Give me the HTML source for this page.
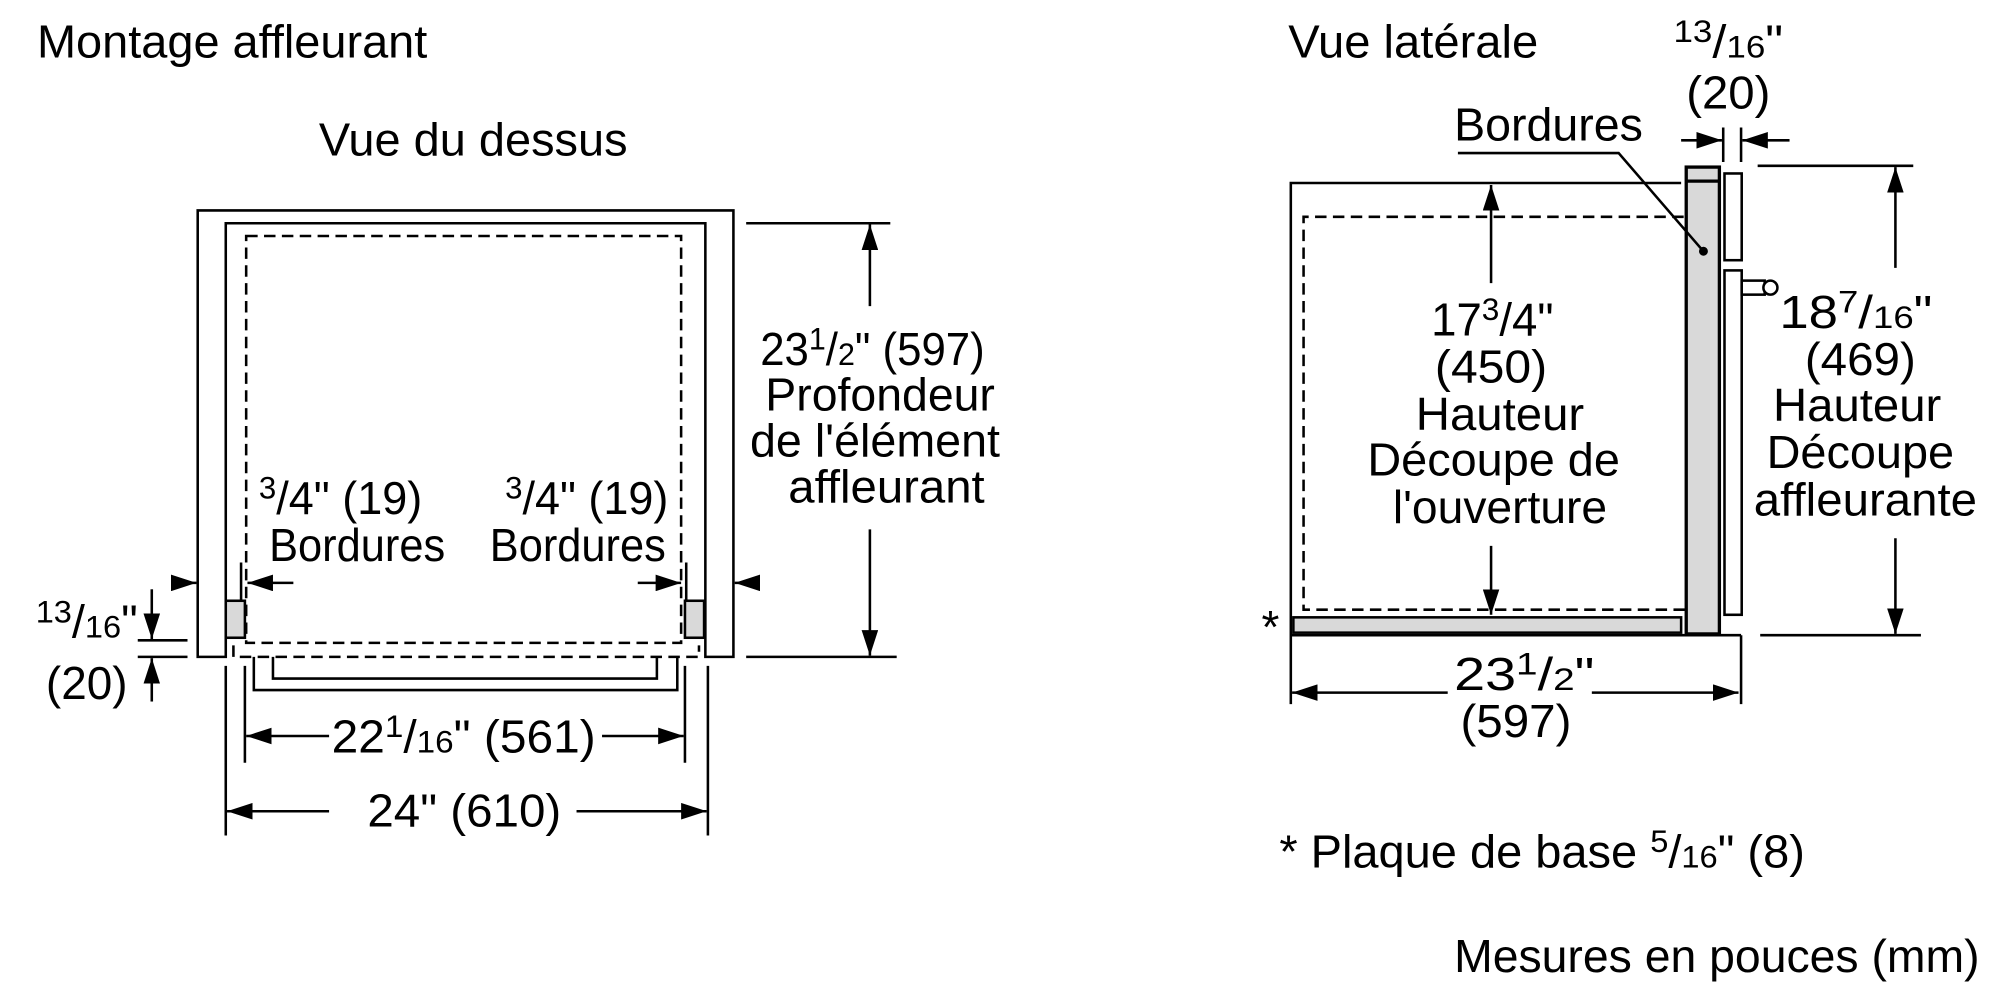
<!DOCTYPE html>
<html><head><meta charset="utf-8"><style>
html,body{margin:0;padding:0;background:#fff;}
svg{display:block;}
text{font-family:"Liberation Sans",Arial,sans-serif;font-size:36px;fill:#000;}
</style></head><body>
<svg width="2000" height="1000" viewBox="0 0 1568 784" preserveAspectRatio="none" xmlns="http://www.w3.org/2000/svg">
<defs>
<marker id="a" viewBox="0 0 20 13" refX="20" refY="6.5" markerWidth="20" markerHeight="13" markerUnits="userSpaceOnUse" orient="auto"><path d="M0,0 L20,6.5 L0,13 Z" fill="#000"/></marker>
</defs>
<g fill="none" stroke="#000" stroke-width="2">
<path d="M155,515 V165 H575 V515 H553 V175 H177 V515 Z"/>
<rect x="177" y="471" width="15" height="29" fill="#d9d9d9"/>
<rect x="537" y="471" width="15" height="29" fill="#d9d9d9"/>
<rect x="193" y="185" width="341" height="319" stroke-dasharray="9,5"/>
<path d="M183,506 V515 H548 V506" stroke-dasharray="9,5"/>
<path d="M199,515 V541 H531 V515 M214,515 V532 H515 V515"/>
<path d="M585,175 H698 M585,515 H703"/>
<path d="M682,240 V176" marker-end="url(#a)"/>
<path d="M682,415 V514" marker-end="url(#a)"/>
<path d="M136,457 H154" marker-end="url(#a)"/>
<path d="M230,457 H194" marker-end="url(#a)"/>
<path d="M189,441 V470 M538,441 V470"/>
<path d="M500,457 H534" marker-end="url(#a)"/>
<path d="M592,457 H576" marker-end="url(#a)"/>
<path d="M108,502 H147 M108,515 H147"/>
<path d="M119,462 V501" marker-end="url(#a)"/>
<path d="M119,550 V516" marker-end="url(#a)"/>
<path d="M177,522 V655 M555,522 V655 M192,522 V598 M537,522 V598"/>
<path d="M258,577 H193" marker-end="url(#a)"/>
<path d="M472,577 H536" marker-end="url(#a)"/>
<path d="M258,636 H178" marker-end="url(#a)"/>
<path d="M452,636 H554" marker-end="url(#a)"/>

<path d="M1318,143.5 H1012 V498 H1365 M1012,498 V552 M1365,498 V552"/>
<path d="M1320,170 H1022 V478 H1324" stroke-dasharray="9,5"/>
<rect x="1014" y="484" width="304" height="12" fill="#d9d9d9"/>
<rect x="1322" y="131" width="26" height="366" fill="#d9d9d9" stroke-width="2.6"/>
<path d="M1322,142 H1348" stroke-width="2.6"/>
<rect x="1352" y="136" width="13.5" height="68"/>
<rect x="1352" y="212" width="13.5" height="270"/>
<rect x="1365.5" y="220" width="18" height="11"/>
<circle cx="1388" cy="225.5" r="5.5" fill="#fff"/>
<path d="M1143,120 H1269 L1335.5,197"/>
<circle cx="1335.5" cy="197" r="2.5" fill="#000"/>
<path d="M1351,100 V127 M1365,100 V127"/>
<path d="M1318,110 H1350" marker-end="url(#a)"/>
<path d="M1403,110 H1366" marker-end="url(#a)"/>
<path d="M1378,130 H1500 M1380,498 H1506"/>
<path d="M1486,210 V131" marker-end="url(#a)"/>
<path d="M1486,422 V497" marker-end="url(#a)"/>
<path d="M1169,222 V145" marker-end="url(#a)"/>
<path d="M1169,428 V482" marker-end="url(#a)"/>
<path d="M1135,543 H1013" marker-end="url(#a)"/>
<path d="M1248,543 H1363" marker-end="url(#a)"/>
</g>

<g>
<text x="29" y="45" textLength="306" lengthAdjust="spacingAndGlyphs">Montage affleurant</text>
<text x="250" y="122" textLength="242" lengthAdjust="spacingAndGlyphs">Vue du dessus</text>
<text x="596" y="286" textLength="176" lengthAdjust="spacingAndGlyphs">23<tspan font-size="25" dy="-12">1</tspan><tspan dy="12">/</tspan><tspan font-size="25">2</tspan>" (597)</text>
<text x="600" y="322" textLength="180" lengthAdjust="spacingAndGlyphs">Profondeur</text>
<text x="588" y="358" textLength="196" lengthAdjust="spacingAndGlyphs">de l'élément</text>
<text x="618" y="394" textLength="154" lengthAdjust="spacingAndGlyphs">affleurant</text>
<text x="203" y="403" textLength="128" lengthAdjust="spacingAndGlyphs"><tspan font-size="25" dy="-12">3</tspan><tspan dy="12">/4" (19)</tspan></text>
<text x="211" y="440" textLength="138" lengthAdjust="spacingAndGlyphs">Bordures</text>
<text x="396" y="403" textLength="128" lengthAdjust="spacingAndGlyphs"><tspan font-size="25" dy="-12">3</tspan><tspan dy="12">/4" (19)</tspan></text>
<text x="384" y="440" textLength="138" lengthAdjust="spacingAndGlyphs">Bordures</text>
<text x="28" y="500" textLength="80" lengthAdjust="spacingAndGlyphs"><tspan font-size="25" dy="-12">13</tspan><tspan dy="12">/</tspan><tspan font-size="25">16</tspan>"</text>
<text x="36" y="548" textLength="64" lengthAdjust="spacingAndGlyphs">(20)</text>
<text x="260" y="590" textLength="207" lengthAdjust="spacingAndGlyphs">22<tspan font-size="25" dy="-12">1</tspan><tspan dy="12">/</tspan><tspan font-size="25">16</tspan>" (561)</text>
<text x="288" y="648" textLength="152" lengthAdjust="spacingAndGlyphs">24" (610)</text>

<text x="1010" y="45" textLength="196" lengthAdjust="spacingAndGlyphs">Vue latérale</text>
<text x="1312" y="45" textLength="86" lengthAdjust="spacingAndGlyphs"><tspan font-size="25" dy="-12">13</tspan><tspan dy="12">/</tspan><tspan font-size="25">16</tspan>"</text>
<text x="1322" y="85" textLength="66" lengthAdjust="spacingAndGlyphs">(20)</text>
<text x="1140" y="110" textLength="148" lengthAdjust="spacingAndGlyphs">Bordures</text>
<text x="1122" y="263" textLength="96" lengthAdjust="spacingAndGlyphs">17<tspan font-size="25" dy="-12">3</tspan><tspan dy="12">/4"</tspan></text>
<text x="1125" y="300" textLength="88" lengthAdjust="spacingAndGlyphs">(450)</text>
<text x="1110" y="337" textLength="132" lengthAdjust="spacingAndGlyphs">Hauteur</text>
<text x="1072" y="373" textLength="198" lengthAdjust="spacingAndGlyphs">Découpe de</text>
<text x="1092" y="410" textLength="168" lengthAdjust="spacingAndGlyphs">l'ouverture</text>
<text x="1395" y="257" textLength="120" lengthAdjust="spacingAndGlyphs">18<tspan font-size="25" dy="-12">7</tspan><tspan dy="12">/</tspan><tspan font-size="25">16</tspan>"</text>
<text x="1415" y="294" textLength="87" lengthAdjust="spacingAndGlyphs">(469)</text>
<text x="1390" y="330" textLength="132" lengthAdjust="spacingAndGlyphs">Hauteur</text>
<text x="1385" y="367" textLength="147" lengthAdjust="spacingAndGlyphs">Découpe</text>
<text x="1375" y="404" textLength="175" lengthAdjust="spacingAndGlyphs">affleurante</text>
<text x="1140" y="541" textLength="110" lengthAdjust="spacingAndGlyphs">23<tspan font-size="25" dy="-12">1</tspan><tspan dy="12">/</tspan><tspan font-size="25">2</tspan>"</text>
<text x="1145" y="578" textLength="87" lengthAdjust="spacingAndGlyphs">(597)</text>
<text x="989" y="504" font-size="26">*</text>
<text x="1003" y="680" textLength="412" lengthAdjust="spacingAndGlyphs">* Plaque de base <tspan font-size="25" dy="-12">5</tspan><tspan dy="12">/</tspan><tspan font-size="25">16</tspan>" (8)</text>
<text x="1140" y="762" textLength="412" lengthAdjust="spacingAndGlyphs">Mesures en pouces (mm)</text>
</g>
</svg>
</body></html>
